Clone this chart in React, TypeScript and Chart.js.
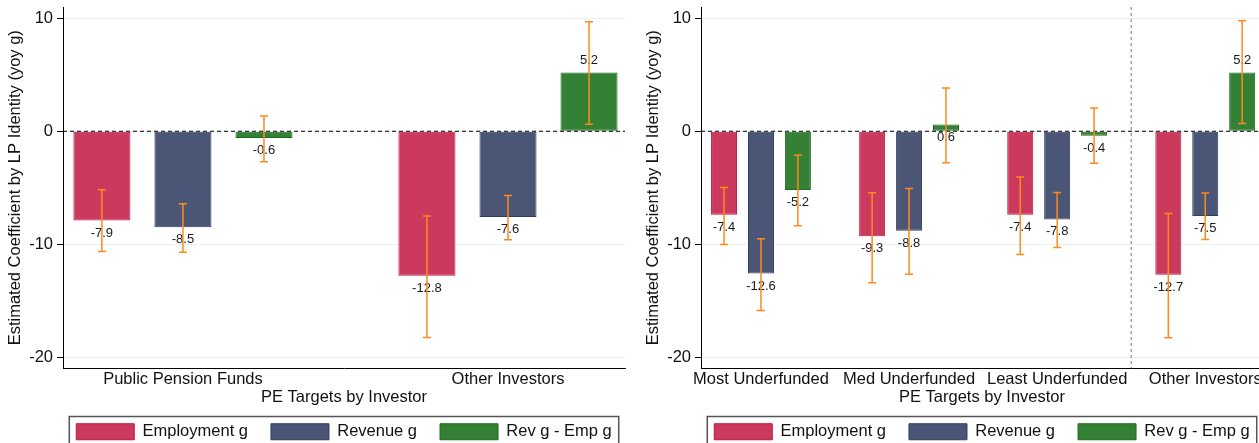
import { useEffect, useRef } from 'react';
import { Chart, registerables } from 'chart.js';

Chart.register(...registerables);

const FONT = '"Liberation Sans", Arial, Helvetica, sans-serif';

// ---------- data ----------
const seriesNames = ['Employment g', 'Revenue g', 'Rev g - Emp g'];
const yTicks = [-20, -10, 0, 10];
const yTitle = 'Estimated Coefficient by LP Identity (yoy g)';
const xTitle = 'PE Targets by Investor';

const leftCategories = ['Public Pension Funds', 'Other Investors'];
const leftEmployment = [-7.9, -12.8];
const leftRevenue = [-8.5, -7.6];
const leftRevMinusEmp = [-0.6, 5.2];
const leftEmploymentLo = [-10.65, -18.25];
const leftEmploymentHi = [-5.17, -7.51];
const leftRevenueLo = [-10.71, -9.61];
const leftRevenueHi = [-6.42, -5.68];
const leftRevMinusEmpLo = [-2.69, 0.62];
const leftRevMinusEmpHi = [1.36, 9.7];

const rightCategories = ['Most Underfunded', 'Med Underfunded', 'Least Underfunded', 'Other Investors'];
const rightEmployment = [-7.4, -9.3, -7.4, -12.7];
const rightRevenue = [-12.6, -8.8, -7.8, -7.5];
const rightRevMinusEmp = [-5.2, 0.6, -0.4, 5.2];
const rightEmploymentLo = [-10.03, -13.4, -10.91, -18.28];
const rightEmploymentHi = [-4.97, -5.44, -4.05, -7.28];
const rightRevenueLo = [-15.86, -12.66, -10.29, -9.58];
const rightRevenueHi = [-9.52, -5.06, -5.41, -5.47];
const rightRevMinusEmpLo = [-8.37, -2.78, -2.84, 0.68];
const rightRevMinusEmpHi = [-2.13, 3.84, 2.07, 9.79];

// ---------- styles ----------
const seriesFill = ['#cb3a5d', '#4b5676', '#348034'];
const seriesBorder = ['#c0153f', '#2e3c62', '#1c6b1c'];
const errColor = '#fd8b1c';
const textColor = '#111';

function buildChart(
  canvas: HTMLCanvasElement,
  categories: string[],
  values: number[][],
  lo: number[][],
  hi: number[][],
  xMin: number,
  xMax: number,
  separator: boolean
) {
  const datasets = values.map((vals, s) => ({
    label: seriesNames[s],
    data: vals.map((v, i) => ({ x: i, y: v })),
    backgroundColor: seriesFill[s],
    borderColor: seriesBorder[s],
    borderWidth: 1,
    borderSkipped: false,
    categoryPercentage: 0.748,
    barPercentage: 0.704,
  }));

  const overlay = {
    id: 'overlay',
    afterLayout(chart: any) {
      // center the legend on the plot region (as Stata does), with room to keep one row
      const lg = chart.legend;
      const ca = chart.chartArea;
      if (lg) {
        lg.left = ca.left - 14;
        lg.right = ca.right + 14;
        lg.width = lg.right - lg.left;
      }
    },
    afterDatasetsDraw(chart: any) {
      const { ctx, chartArea } = chart;
      const y = chart.scales.y;
      const x = chart.scales.x;
      ctx.save();
      // zero reference line
      const y0 = y.getPixelForValue(0);
      ctx.strokeStyle = '#000';
      ctx.lineWidth = 1.2;
      ctx.setLineDash([4, 3]);
      ctx.beginPath();
      ctx.moveTo(chartArea.left, y0);
      ctx.lineTo(chartArea.right, y0);
      ctx.stroke();
      // separator before last category
      if (separator) {
        const xs = x.getPixelForValue(categories.length - 1.5);
        ctx.strokeStyle = '#777';
        ctx.lineWidth = 1;
        ctx.setLineDash([3, 3]);
        ctx.beginPath();
        ctx.moveTo(xs, chartArea.top);
        ctx.lineTo(xs, chartArea.bottom);
        ctx.stroke();
      }
      ctx.setLineDash([]);
      // value labels
      ctx.font = '13px ' + FONT;
      ctx.fillStyle = '#1a1a1a';
      ctx.textAlign = 'center';
      ctx.textBaseline = 'middle';
      chart.data.datasets.forEach((ds: any, di: number) => {
        const meta = chart.getDatasetMeta(di);
        meta.data.forEach((bar: any, i: number) => {
          const v = ds.data[i].y;
          const end = y.getPixelForValue(v);
          const ly = v > 1 ? end - 12 : end + 12.5;
          ctx.fillText(v.toFixed(1), bar.x, ly);
        });
      });
      // error bars
      ctx.strokeStyle = errColor;
      ctx.lineWidth = 1.5;
      chart.data.datasets.forEach((ds: any, di: number) => {
        const meta = chart.getDatasetMeta(di);
        meta.data.forEach((bar: any, i: number) => {
          const t = y.getPixelForValue(hi[di][i]);
          const b = y.getPixelForValue(lo[di][i]);
          const cx = bar.x;
          ctx.beginPath();
          ctx.moveTo(cx, t);
          ctx.lineTo(cx, b);
          ctx.moveTo(cx - 4, t);
          ctx.lineTo(cx + 4, t);
          ctx.moveTo(cx - 4, b);
          ctx.lineTo(cx + 4, b);
          ctx.stroke();
        });
      });
      ctx.restore();
    },
    afterDraw(chart: any) {
      const lg = chart.legend;
      const hb = lg && lg.legendHitBoxes;
      if (!hb || !hb.length) return;
      const ctx = chart.ctx;
      const first = hb[0];
      const last = hb[hb.length - 1];
      const l = first.left - 7;
      const r = last.left + last.width + 7;
      const t = first.top - 7;
      const b = first.top + first.height + 8;
      ctx.save();
      ctx.strokeStyle = '#555';
      ctx.lineWidth = 1.5;
      ctx.strokeRect(l, t, r - l, b - t);
      ctx.restore();
    },
  };

  return new Chart(canvas, {
    type: 'bar',
    data: { datasets } as any,
    plugins: [overlay],
    options: {
      animation: false,
      responsive: false,
      events: [],
      layout: { padding: { top: 7, left: 0, right: 5, bottom: 0 } },
      plugins: {
        tooltip: { enabled: false },
        legend: {
          position: 'bottom',
          fullSize: true,
          labels: {
            boxWidth: 58,
            boxHeight: 16,
            padding: 23,
            color: textColor,
            font: { family: FONT, size: 16.5 },
          },
        },
      },
      scales: {
        x: {
          type: 'linear',
          min: xMin,
          max: xMax,
          offset: false,
          afterBuildTicks: (s: any) => {
            s.ticks = categories.map((_, i) => ({ value: i }));
          },
          afterFit: (s: any) => {
            s.height = 32;
            s.paddingLeft = 0;
            s.paddingRight = 0;
          },
          ticks: {
            autoSkip: false,
            maxRotation: 0,
            minRotation: 0,
            padding: 1,
            color: textColor,
            font: { family: FONT, size: 16.5 },
            callback: (v: any) => categories[v] ?? '',
          },
          grid: { display: true, offset: false, drawOnChartArea: false, drawTicks: false },
          border: { display: true, color: '#000', width: 1 },
          title: {
            display: true,
            text: xTitle,
            color: textColor,
            font: { family: FONT, size: 16.5 },
            padding: { top: 0, bottom: -7 },
          },
        },
        y: {
          type: 'linear',
          min: -21,
          max: 11,
          afterBuildTicks: (s: any) => {
            s.ticks = yTicks.map((v) => ({ value: v }));
          },
          afterFit: (s: any) => {
            s.width = 63;
            s.paddingTop = 0;
            s.paddingBottom = 0;
          },
          ticks: {
            padding: 4,
            color: textColor,
            font: { family: FONT, size: 16.5 },
            callback: (v: any) => String(v),
          },
          grid: {
            color: '#e9f0f2',
            lineWidth: 1,
            drawTicks: true,
            tickLength: 6,
            tickColor: '#000',
            tickWidth: 1,
          },
          border: { display: true, color: '#000', width: 1 },
          title: {
            display: true,
            text: yTitle,
            color: textColor,
            font: { family: FONT, size: 16.5 },
            padding: { top: 5.6, bottom: 0 },
          },
        },
      },
    } as any,
  });
}

export default function App() {
  const leftRef = useRef<HTMLCanvasElement | null>(null);
  const rightRef = useRef<HTMLCanvasElement | null>(null);

  useEffect(() => {
    const left = buildChart(
      leftRef.current!,
      leftCategories,
      [leftEmployment, leftRevenue, leftRevMinusEmp],
      [leftEmploymentLo, leftRevenueLo, leftRevMinusEmpLo],
      [leftEmploymentHi, leftRevenueHi, leftRevMinusEmpHi],
      -0.369,
      1.36,
      false
    );
    const right = buildChart(
      rightRef.current!,
      rightCategories,
      [rightEmployment, rightRevenue, rightRevMinusEmp],
      [rightEmploymentLo, rightRevenueLo, rightRevMinusEmpLo],
      [rightEmploymentHi, rightRevenueHi, rightRevMinusEmpHi],
      -0.405,
      3.39,
      true
    );
    return () => {
      left.destroy();
      right.destroy();
    };
  }, []);

  return (
    <div
      style={{
        position: 'fixed',
        left: 0,
        top: 0,
        width: 1259,
        height: 443,
        overflow: 'hidden',
        background: '#fff',
      }}
    >
      <canvas
        ref={leftRef}
        width={630}
        height={450}
        style={{ position: 'absolute', left: 0, top: 0, width: 630, height: 450 }}
      />
      <canvas
        ref={rightRef}
        width={630}
        height={450}
        style={{ position: 'absolute', left: 638, top: 0, width: 630, height: 450 }}
      />
    </div>
  );
}
